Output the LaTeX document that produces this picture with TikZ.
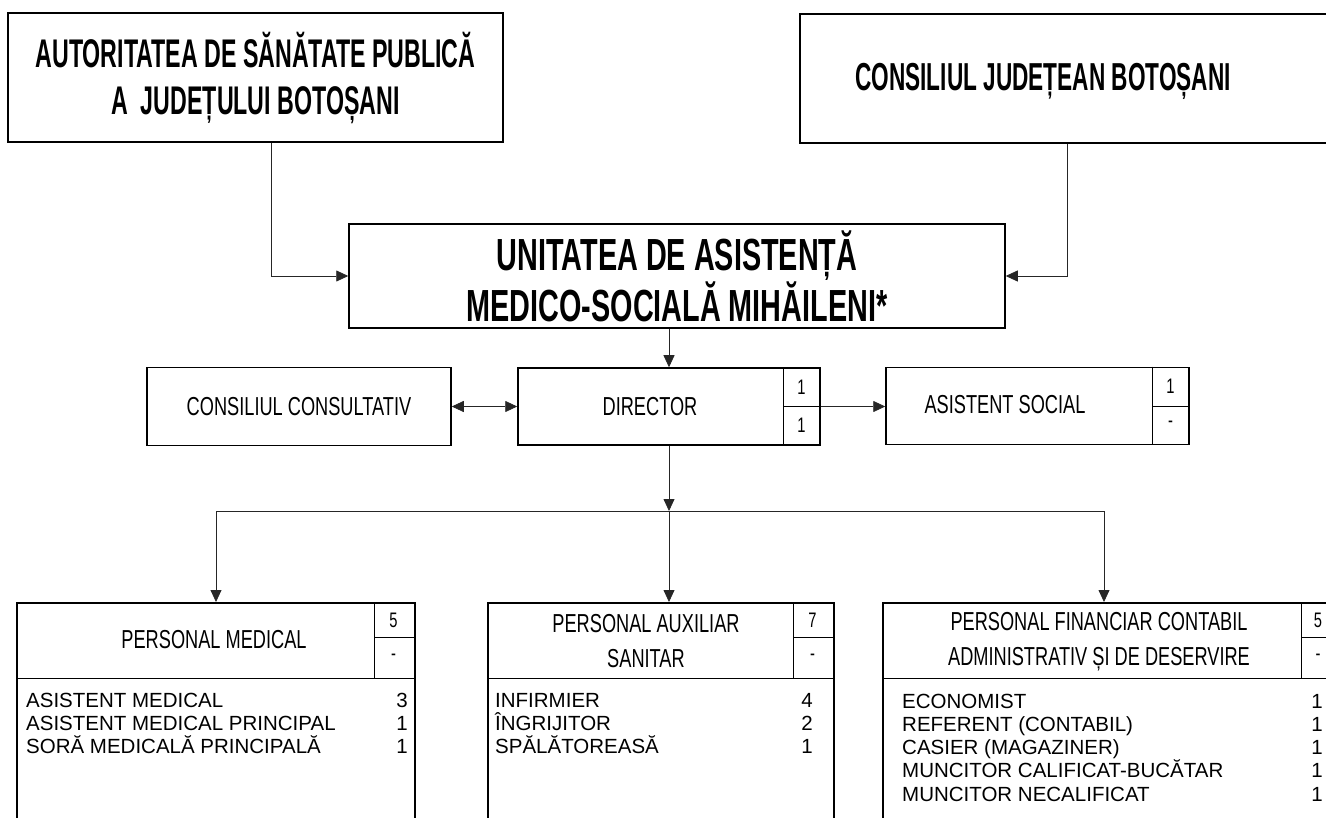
\documentclass[tikz,border=0pt]{standalone}
\usepackage{fontspec}
\setmainfont{Liberation Sans}
\newfontfamily\condbf[FakeStretch=0.58]{Liberation Sans}
\newfontfamily\condbfw[FakeStretch=0.64]{Liberation Sans}
\newfontfamily\cond[FakeStretch=0.7]{Liberation Sans}
\usetikzlibrary{arrows.meta}

\begin{document}
\begin{tikzpicture}[x=1pt,y=-1pt,
    box/.style={draw,line width=1.5pt,inner sep=0pt},
    rule/.style={line width=0.9pt},
    link/.style={line width=0.8pt,black!85,-{Triangle[length=12pt,width=11pt]}},
    twoway/.style={link,{Triangle[length=12pt,width=11pt]}-{Triangle[length=12pt,width=11pt]}},
    bigtxt/.style={font=\condbf\bfseries\fontsize{40}{47}\selectfont,align=center},
    headtxt/.style={font=\cond\fontsize{26}{35}\selectfont,align=center,inner sep=0pt},
    celltxt/.style={font=\cond\fontsize{21}{22}\selectfont,inner sep=0pt},
    itemtxt/.style={font=\fontsize{20.5}{23}\selectfont,inner sep=0pt}]
    \useasboundingbox (0,0) rectangle (1326,818);
    \clip (0,0) rectangle (1326,818);

    \node[box,minimum width=495pt,minimum height=129pt,bigtxt] (asp) at (255.5,77.5) {AUTORITATEA DE SĂNĂTATE PUBLICĂ\\A\ \ JUDEȚULUI BOTOȘANI};
    \node[box,minimum width=560pt,minimum height=129pt] (cj) at (1080,78.5) {};
    \node[bigtxt,font=\condbf\bfseries\fontsize{39}{47}\selectfont] (cjtxt) at (1043,81) {CONSILIUL JUDEȚEAN BOTOȘANI};
    \node[box,minimum width=656pt,minimum height=104pt,bigtxt,font=\condbfw\bfseries\fontsize{45}{43}\selectfont] (unit) at (677,276) {UNITATEA DE ASISTENȚĂ\\MEDICO-SOCIALĂ MIHĂILENI*};

    \node[box,minimum width=304pt,minimum height=78pt,headtxt] (cc) at (299,406.5) {CONSILIUL CONSULTATIV};
    \node[box,minimum width=302pt,minimum height=77pt] (dir) at (669,406.5) {};
    \node[headtxt] (dirtxt) at (650,406.5) {DIRECTOR};
    \draw[rule] ([xshift=-37pt]dir.north east) -- ([xshift=-37pt]dir.south east);
    \draw[rule] ([xshift=-37pt]dir.east) -- (dir.east);
    \node[celltxt] (dir1) at (801.5,387) {1};
    \node[celltxt] (dir2) at (801.5,425) {1};
    \node[box,minimum width=303pt,minimum height=77pt] (as) at (1037.5,406) {};
    \node[headtxt] (astxt) at (1005,405) {ASISTENT SOCIAL};
    \draw[rule] ([xshift=-37pt]as.north east) -- ([xshift=-37pt]as.south east);
    \draw[rule] ([xshift=-37pt]as.east) -- (as.east);
    \node[celltxt] (as1) at (1170.5,386) {1};
    \node[celltxt] (as2) at (1170.5,424) {-};

    \draw[link] ([xshift=15.5pt]asp.south) |- (unit.west);
    \draw[link] ([xshift=-13pt]cj.south) |- (unit.east);
    \draw[link] (dir.north |- unit.south) -- (dir.north);
    \draw[twoway] (cc.east) -- (dir.west);
    \draw[link] (dir.east) -- (dir.east -| as.west);

    \node[box,minimum width=398pt,minimum height=240pt,anchor=north west] (med) at (16,602) {};
    \node[box,minimum width=346pt,minimum height=240pt,anchor=north west] (aux) at (487,602) {};
    \node[box,minimum width=459pt,minimum height=240pt,anchor=north west] (fin) at (882,602) {};
    \foreach \b in {med,aux,fin} {
        \draw[rule] ([yshift=-76pt]\b.north west) -- ([yshift=-76pt]\b.north east);
        \draw[rule] ([xshift=-41pt]\b.north east) -- ([xshift=-41pt,yshift=-76pt]\b.north east);
        \draw[rule] ([xshift=-41pt,yshift=-35pt]\b.north east) -- ([yshift=-35pt]\b.north east);
    }
    \node[headtxt] (medtxt) at (214,640) {PERSONAL MEDICAL};
    \node[headtxt] (auxtxt) at (646,641.5) {PERSONAL AUXILIAR\\SANITAR};
    \node[headtxt] (fintxt) at (1099,641.5) {PERSONAL FINANCIAR CONTABIL\\ADMINISTRATIV ȘI DE DESERVIRE};
    \node[celltxt] (med1) at (393.5,620) {5};
    \node[celltxt] (med2) at (393.5,657) {-};
    \node[celltxt] (aux1) at (812.5,620) {7};
    \node[celltxt] (aux2) at (812.5,657) {-};
    \node[celltxt] (fin1) at (1318,620) {5};
    \node[celltxt] (fin2) at (1318,657) {-};

    \coordinate (bus) at (669,511);
    \coordinate (busl) at (216,511);
    \coordinate (busr) at (1104,511);
    \draw[link] (dir.south) -- (bus);
    \draw[line width=0.8pt,black!85] (busl) -- (busr);
    \draw[link] (busl) -- (busl |- med.north);
    \draw[link] (bus) -- (bus |- aux.north);
    \draw[link] (busr) -- (busr |- fin.north);

    \foreach \t/\n [count=\i] in {ASISTENT MEDICAL/3,ASISTENT MEDICAL PRINCIPAL/1,SORĂ MEDICALĂ PRINCIPALĂ/1} {
        \node[itemtxt,anchor=base west] (medi\i) at (26,{707+23.3*(\i-1)}) {\t};
        \node[itemtxt,anchor=base east] (medn\i) at (408,{707+23.3*(\i-1)}) {\n};
    }
    \foreach \t/\n [count=\i] in {INFIRMIER/4,ÎNGRIJITOR/2,SPĂLĂTOREASĂ/1} {
        \node[itemtxt,anchor=base west] (auxi\i) at (495,{707+23.3*(\i-1)}) {\t};
        \node[itemtxt,anchor=base east] (auxn\i) at (813,{707+23.3*(\i-1)}) {\n};
    }
    \foreach \t/\n [count=\i] in {ECONOMIST/1,REFERENT (CONTABIL)/1,CASIER (MAGAZINER)/1,MUNCITOR CALIFICAT-BUCĂTAR/1,MUNCITOR NECALIFICAT/1} {
        \node[itemtxt,anchor=base west] (fini\i) at (902,{708+23.3*(\i-1)}) {\t};
        \node[itemtxt,anchor=base east] (finn\i) at (1323,{708+23.3*(\i-1)}) {\n};
    }
\end{tikzpicture}
\end{document}
